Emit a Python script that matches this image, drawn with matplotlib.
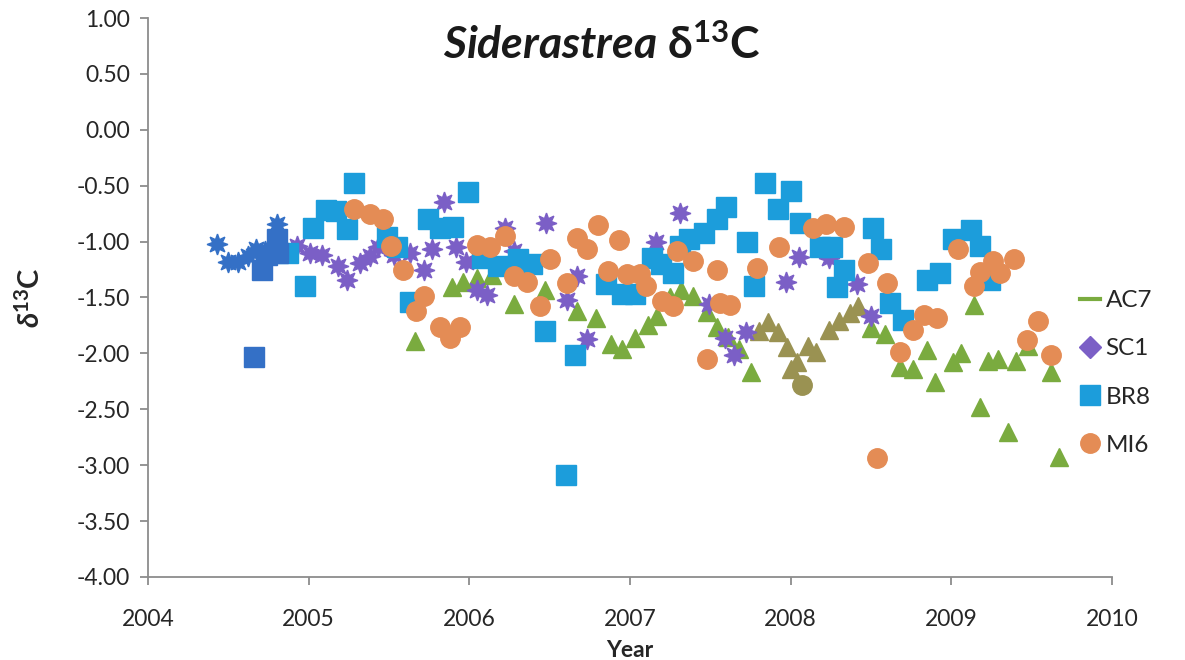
import matplotlib
matplotlib.use("Agg")
import matplotlib.pyplot as plt
from matplotlib.lines import Line2D

plt.rcParams['font.family'] = ['Lato', 'DejaVu Sans']
plt.rcParams['mathtext.fontset'] = 'custom'
plt.rcParams['mathtext.rm'] = 'Lato'
plt.rcParams['mathtext.it'] = 'Lato:italic'
plt.rcParams['mathtext.bf'] = 'Lato:bold'
plt.rcParams['mathtext.bfit'] = 'Lato:bold:italic'
plt.rcParams['mathtext.fallback'] = 'stixsans'

# decimal year / delta13C per colony
ac7_year = [2005.66, 2005.89, 2005.96, 2006.05, 2006.14, 2006.28, 2006.47, 2006.67,
            2006.79, 2006.88, 2006.95, 2007.03, 2007.11, 2007.17, 2007.25, 2007.32,
            2007.39, 2007.48, 2007.54, 2007.61, 2007.68, 2007.75, 2008.50, 2008.59,
            2008.68, 2008.76, 2008.85, 2008.90, 2009.01, 2009.06, 2009.14, 2009.18,
            2009.23, 2009.29, 2009.35, 2009.40, 2009.48, 2009.62, 2009.67]
ac7_d13c = [-1.89, -1.41, -1.36, -1.33, -1.30, -1.56, -1.43, -1.62,
            -1.68, -1.92, -1.96, -1.86, -1.75, -1.67, -1.50, -1.43,
            -1.49, -1.63, -1.76, -1.85, -1.96, -2.17, -1.77, -1.83,
            -2.12, -2.14, -1.97, -2.26, -2.08, -2.00, -1.57, -2.48,
            -2.07, -2.05, -2.70, -2.07, -1.93, -2.17, -2.93]

# AC7 stretch printed in olive
ac7b_year = [2007.80, 2007.86, 2007.92, 2007.98, 2008.00, 2008.04, 2008.11, 2008.16,
             2008.24, 2008.30, 2008.37, 2008.42]
ac7b_d13c = [-1.80, -1.72, -1.81, -1.94, -2.14, -2.08, -1.93, -1.99,
             -1.79, -1.71, -1.64, -1.58]

sc1_year = [2004.93, 2005.01, 2005.08, 2005.18, 2005.24, 2005.32, 2005.38, 2005.43,
            2005.53, 2005.63, 2005.72, 2005.77, 2005.84, 2005.92, 2005.98, 2006.05,
            2006.11, 2006.22, 2006.28, 2006.48, 2006.61, 2006.67, 2006.73, 2007.16,
            2007.31, 2007.49, 2007.59, 2007.65, 2007.72, 2007.97, 2008.05, 2008.24,
            2008.41, 2008.50]
sc1_d13c = [-1.04, -1.10, -1.12, -1.22, -1.34, -1.19, -1.13, -1.05,
            -1.12, -1.10, -1.25, -1.07, -0.65, -1.05, -1.18, -1.43,
            -1.48, -0.88, -1.08, -0.83, -1.52, -1.31, -1.87, -1.00,
            -0.74, -1.56, -1.86, -2.01, -1.81, -1.36, -1.14, -1.15,
            -1.38, -1.67]

# early SC1 samples printed in dark blue
sc1b_year = [2004.43, 2004.50, 2004.56, 2004.62, 2004.67, 2004.73, 2004.80]
sc1b_d13c = [-1.02, -1.18, -1.18, -1.13, -1.07, -1.08, -0.84]

br8_year = [2004.87, 2004.98, 2005.03, 2005.11, 2005.17, 2005.24, 2005.28, 2005.49,
            2005.55, 2005.63, 2005.74, 2005.82, 2005.90, 2005.99, 2006.08, 2006.18,
            2006.30, 2006.39, 2006.47, 2006.60, 2006.66, 2006.85, 2006.95, 2007.03,
            2007.14, 2007.19, 2007.27, 2007.31, 2007.37, 2007.46, 2007.54, 2007.60,
            2007.73, 2007.77, 2007.84, 2007.92, 2008.00, 2008.06, 2008.18, 2008.26,
            2008.29, 2008.33, 2008.51, 2008.56, 2008.62, 2008.70, 2008.85, 2008.93,
            2009.01, 2009.12, 2009.18, 2009.24]
br8_d13c = [-1.10, -1.40, -0.88, -0.72, -0.73, -0.89, -0.48, -0.96,
            -1.05, -1.54, -0.80, -0.88, -0.87, -0.56, -1.15, -1.22,
            -1.16, -1.20, -1.80, -3.09, -2.01, -1.38, -1.47, -1.47,
            -1.15, -1.20, -1.28, -1.04, -0.98, -0.92, -0.80, -0.69,
            -1.00, -1.40, -0.48, -0.71, -0.55, -0.83, -1.05, -1.05,
            -1.41, -1.25, -0.88, -1.07, -1.55, -1.70, -1.34, -1.28,
            -0.98, -0.90, -1.04, -1.34]

# early BR8 samples printed in dark blue
br8b_year = [2004.66, 2004.71, 2004.74, 2004.80, 2004.81]
br8b_d13c = [-2.03, -1.25, -1.12, -0.98, -1.10]

mi6_year = [2005.28, 2005.38, 2005.46, 2005.51, 2005.59, 2005.67, 2005.72, 2005.82,
            2005.88, 2005.94, 2006.05, 2006.13, 2006.22, 2006.28, 2006.36, 2006.44,
            2006.50, 2006.61, 2006.67, 2006.73, 2006.80, 2006.86, 2006.93, 2006.98,
            2007.06, 2007.10, 2007.20, 2007.27, 2007.29, 2007.39, 2007.48, 2007.54,
            2007.56, 2007.62, 2007.79, 2007.93, 2008.14, 2008.22, 2008.33, 2008.48,
            2008.54, 2008.60, 2008.68, 2008.76, 2008.83, 2008.91, 2009.04, 2009.14,
            2009.18, 2009.26, 2009.30, 2009.39, 2009.47, 2009.54, 2009.62]
mi6_d13c = [-0.71, -0.75, -0.80, -1.04, -1.25, -1.62, -1.49, -1.76,
            -1.86, -1.76, -1.03, -1.05, -0.95, -1.31, -1.36, -1.58,
            -1.16, -1.37, -0.97, -1.07, -0.85, -1.26, -0.99, -1.29,
            -1.29, -1.40, -1.53, -1.58, -1.08, -1.17, -2.05, -1.25,
            -1.55, -1.57, -1.24, -1.05, -0.88, -0.84, -0.87, -1.19,
            -2.94, -1.37, -1.99, -1.79, -1.66, -1.68, -1.07, -1.40,
            -1.27, -1.17, -1.28, -1.16, -1.88, -1.71, -2.01]

mi6b_year = [2008.07]
mi6b_d13c = [-2.28]

series_names = ['AC7', 'SC1', 'BR8', 'MI6']

GREEN = '#7aab3f'
OLIVE = '#9a9252'
PURPLE = '#7b5fc6'
BLUE = '#1c9ddb'
DARKBLUE = '#3470c6'
ORANGE = '#e48c55'
STAR = (8, 1, 0)

fig = plt.figure(figsize=(11.85, 6.6), dpi=100)
ax = fig.add_axes([0.1249, 0.1258, 0.8135, 0.8469])

ax.plot(ac7_year, ac7_d13c, ls='none', marker='^', ms=13, color=GREEN)
ax.plot(ac7b_year, ac7b_d13c, ls='none', marker='^', ms=13, color=OLIVE)
ax.plot(sc1_year, sc1_d13c, ls='none', marker=STAR, ms=15, color=PURPLE)
ax.plot(br8_year, br8_d13c, ls='none', marker='s', ms=14, color=BLUE)
ax.plot(mi6_year, mi6_d13c, ls='none', marker='o', ms=14, color=ORANGE)
ax.plot(mi6b_year, mi6b_d13c, ls='none', marker='o', ms=14, color=OLIVE)
ax.plot(sc1b_year, sc1b_d13c, ls='none', marker=STAR, ms=15, color=DARKBLUE)
ax.plot(br8b_year, br8b_d13c, ls='none', marker='s', ms=14, color=DARKBLUE)

ax.set_xlim(2004, 2010)
ax.set_ylim(-4.0, 1.0)
ax.set_xticks(range(2004, 2011))
ax.set_yticks([1.0 - 0.5 * i for i in range(11)])
ax.yaxis.set_major_formatter(matplotlib.ticker.FormatStrFormatter('%.2f'))

for side in ['top', 'right']:
    ax.spines[side].set_visible(False)
for side in ['left', 'bottom']:
    ax.spines[side].set_color('#8c8c8c')
    ax.spines[side].set_linewidth(1.3)
ax.tick_params(axis='both', colors='#8c8c8c', labelcolor='#262626',
               labelsize=16.5, length=6, width=1.3)
ax.tick_params(axis='x', pad=17)
ax.tick_params(axis='y', pad=7)

ax.set_xlabel('Year', fontsize=16.5, fontweight='bold', color='#262626', labelpad=7)
ax.set_ylabel(r'$\mathbfit{\delta}^{\mathbf{13}}$C', fontsize=21, fontweight='bold',
              color='#262626', labelpad=23)

fig.text(0.508, 0.932, r'$\mathbfit{Siderastrea}$ δ$^{\mathbf{13}}$C',
         fontsize=32, fontweight='bold', color='#1a1a1a', ha='center', va='center')

handles = [
    Line2D([], [], color=GREEN, lw=3),
    Line2D([], [], ls='none', marker='D', ms=11, color=PURPLE),
    Line2D([], [], ls='none', marker='s', ms=15, color=BLUE),
    Line2D([], [], ls='none', marker='o', ms=14, color=ORANGE),
]
fig.legend(handles, series_names, loc='center left', bbox_to_anchor=(0.893, 0.435),
           frameon=False, fontsize=17.5, handlelength=0.8, handletextpad=0.25,
           labelspacing=1.12, labelcolor='#262626')

fig.savefig('out.png', dpi=100)
